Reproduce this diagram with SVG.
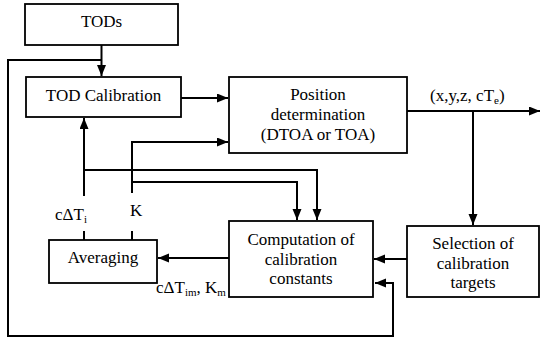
<svg xmlns="http://www.w3.org/2000/svg" width="541" height="340" viewBox="0 0 541 340" font-family="Liberation Serif, Times New Roman, serif" font-size="17">
<defs>
<style>
.box{fill:#fff;stroke:#000;stroke-width:1.8}
.ln{fill:none;stroke:#000;stroke-width:2}
.t{text-anchor:middle}
.s{font-size:11px}
</style>
<marker id="ah" markerUnits="userSpaceOnUse" markerWidth="11" markerHeight="10" refX="11" refY="4.5" orient="auto">
<path d="M0,0 L11,4.5 L0,9 z" fill="#000"/>
</marker>
</defs>
<rect width="541" height="340" fill="#fff"/>
<g id="connectors">
<path class="ln" d="M101.5,45 V76" marker-end="url(#ah)"/>
<path class="ln" d="M101.5,60 H8 V336 H393 V283 H375" marker-end="url(#ah)"/>
<path class="ln" d="M181,98 H228" marker-end="url(#ah)"/>
<path class="ln" d="M407,111 H540" marker-end="url(#ah)"/>
<path class="ln" d="M473,111 V225" marker-end="url(#ah)"/>
<path class="ln" d="M407,259 H374" marker-end="url(#ah)"/>
<path class="ln" d="M229,258 H158" marker-end="url(#ah)"/>
<path class="ln" d="M84,240 V231"/>
<path class="ln" d="M84,196 V118" marker-end="url(#ah)"/>
<path class="ln" d="M84,170 H317 V220" marker-end="url(#ah)"/>
<path class="ln" d="M132,240 V231"/>
<path class="ln" d="M132,193 V142 H228" marker-end="url(#ah)"/>
<path class="ln" d="M132,182 H297 V220" marker-end="url(#ah)"/>
</g>
<g id="tods"><rect class="box" x="25" y="4" width="153" height="41"/><text class="t" x="101.5" y="27">TODs</text></g>
<g id="tod-calibration"><rect class="box" x="26" y="77" width="155" height="40"/><text class="t" x="103.5" y="101">TOD Calibration</text></g>
<g id="position"><rect class="box" x="229" y="77" width="178" height="76"/>
<text class="t" x="318" y="100">Position</text><text class="t" x="318" y="120">determination</text><text class="t" x="318" y="140">(DTOA or TOA)</text></g>
<g id="computation"><rect class="box" x="229" y="221" width="144" height="76"/>
<text class="t" x="301" y="245">Computation of</text><text class="t" x="301" y="265">calibration</text><text class="t" x="301" y="284">constants</text></g>
<g id="selection"><rect class="box" x="407" y="226" width="132" height="71"/>
<text class="t" x="473" y="249">Selection of</text><text class="t" x="473" y="269">calibration</text><text class="t" x="473" y="288">targets</text></g>
<g id="averaging"><rect class="box" x="49" y="240" width="108" height="43"/><text class="t" x="103" y="263">Averaging</text></g>
<g id="labels">
<text x="430" y="101">(x,y,z, cT<tspan class="s" dy="3">e</tspan><tspan dy="-3">)</tspan></text>
<text x="55" y="220">cΔT<tspan class="s" dy="3">i</tspan></text>
<text x="130" y="216">K</text>
<text x="156" y="293">cΔT<tspan class="s" dy="3">im</tspan><tspan dy="-3">, K</tspan><tspan class="s" dy="3">m</tspan></text>
</g>
</svg>
